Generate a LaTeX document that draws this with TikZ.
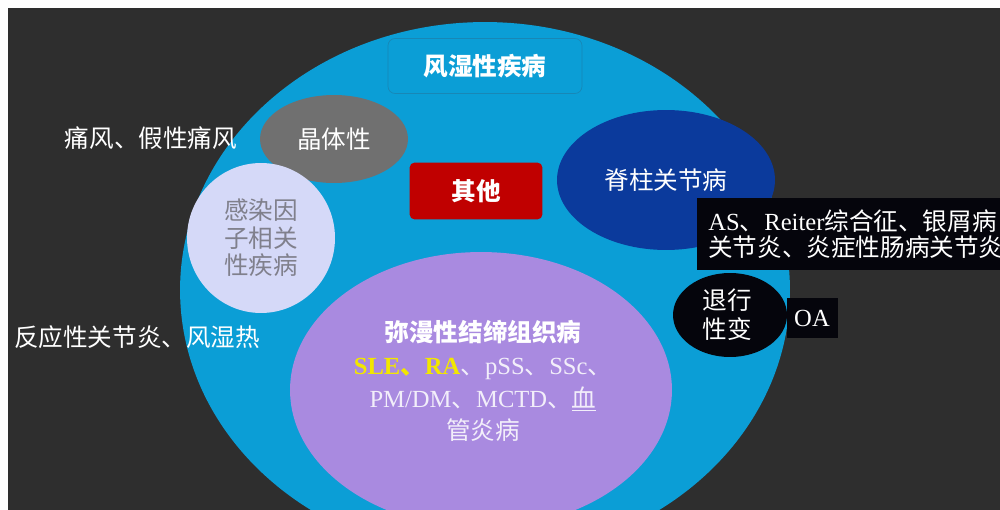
\documentclass[tikz,border=0pt]{standalone}
\usepackage{fontspec}
\setmainfont{Liberation Serif}
\newfontfamily\cjk{Noto Sans CJK SC}
\usetikzlibrary{shapes.geometric}

\definecolor{fundo}{HTML}{2E2E2E}
\definecolor{ciano}{HTML}{0B9ED6}
\definecolor{cianoborda}{HTML}{1887B6}
\definecolor{cinza}{HTML}{707070}
\definecolor{lilas}{HTML}{D5D9F8}
\definecolor{vermelho}{HTML}{C00000}
\definecolor{azul}{HTML}{0B3A9C}
\definecolor{roxo}{HTML}{A98AE0}
\definecolor{preto}{HTML}{05050C}
\definecolor{amarelo}{HTML}{F2E600}
\definecolor{textocinza}{HTML}{80808C}
\definecolor{textoclaro}{HTML}{F2EEFA}

\tikzset{
    grupo/.style={ellipse, inner sep=0pt},
    rotulo/.style={text=white, font=\fontsize{14}{17}\selectfont\cjk},
    caixa/.style={fill=preto, text=white, inner sep=0pt}
}

\begin{document}
\begin{tikzpicture}[x=0.02cm, y=-0.02cm]
    % Fundo
    \fill[white] (0,0) rectangle (1000,510);
    \fill[fundo] (8,8) rectangle (1000,510);
    \clip (0,0) rectangle (1000,510);

    % Circulo grande
    \node[grupo, fill=ciano, minimum width=12.2cm, minimum height=10.72cm] (reuma) at (485,290) {};
    \node[rotulo, font=\fontsize{14}{17}\selectfont\cjk\bfseries, draw=cianoborda, fill=ciano,
        rounded corners=4pt, minimum width=3.88cm, minimum height=1.1cm] (titulo) at (485,66) {风湿性疾病};

    % Subgrupos
    \node[grupo, rotulo, fill=cinza, minimum width=2.96cm, minimum height=1.76cm] (cristal) at (334,139) {晶体性};
    \node[grupo, fill=lilas, minimum width=2.96cm, minimum height=3.0cm, text=textocinza,
        font=\fontsize{14}{15.6}\selectfont\cjk, align=center] (infec) at (261,238) {感染因\\子相关\\性疾病};
    \node[rotulo, font=\fontsize{14}{17}\selectfont\cjk\bfseries, fill=vermelho, rounded corners=3pt,
        minimum width=2.66cm, minimum height=1.14cm] (outros) at (476,191) {其他};
    \node[grupo, rotulo, fill=azul, minimum width=4.36cm, minimum height=2.8cm] (espondilo) at (666,180) {脊柱关节病};
    \node[grupo, fill=roxo, minimum width=7.64cm, minimum height=5.52cm] (difuso) at (481,390) {};
    \node[grupo, fill=preto, minimum width=2.28cm, minimum height=1.68cm] (degen) at (730,315) {};

    % Textos
    \node[rotulo] (gota) at (151,138) {痛风、假性痛风};
    \node[rotulo] (reativa) at (137,337) {反应性关节炎、风湿热};
    \node[rotulo, align=center, font=\fontsize{14}{16.5}\selectfont\cjk] (degentxt) at (727,315) {退行\\性变};
    \node[text=textoclaro, align=center, font=\fontsize{14}{18.7}\selectfont] (difusotxt) at (483,381)
        {{\cjk\bfseries\color{white} 弥漫性结缔组织病}\\
         {\color{amarelo}\bfseries SLE{\cjk 、}RA}{\cjk 、}pSS{\cjk 、}SSc{\cjk 、}\\
         PM/DM{\cjk 、}MCTD{\cjk 、}\underline{\cjk 血}\\
         {\cjk 管炎病}};

    % Caixas pretas
    \node[caixa, anchor=west, minimum height=1.44cm, minimum width=7cm, align=left,
        font=\fontsize{14}{15}\selectfont, text width=6.6cm, inner xsep=0.22cm] (espondilotxt) at (697,234)
        {AS{\cjk 、}Reiter{\cjk 综合征、银屑病}\\{\cjk 关节炎、炎症性肠病关节炎}};
    \node[caixa, minimum width=1.02cm, minimum height=0.82cm, font=\fontsize{14}{17}\selectfont] (oa) at (812,318) {OA};
\end{tikzpicture}
\end{document}
